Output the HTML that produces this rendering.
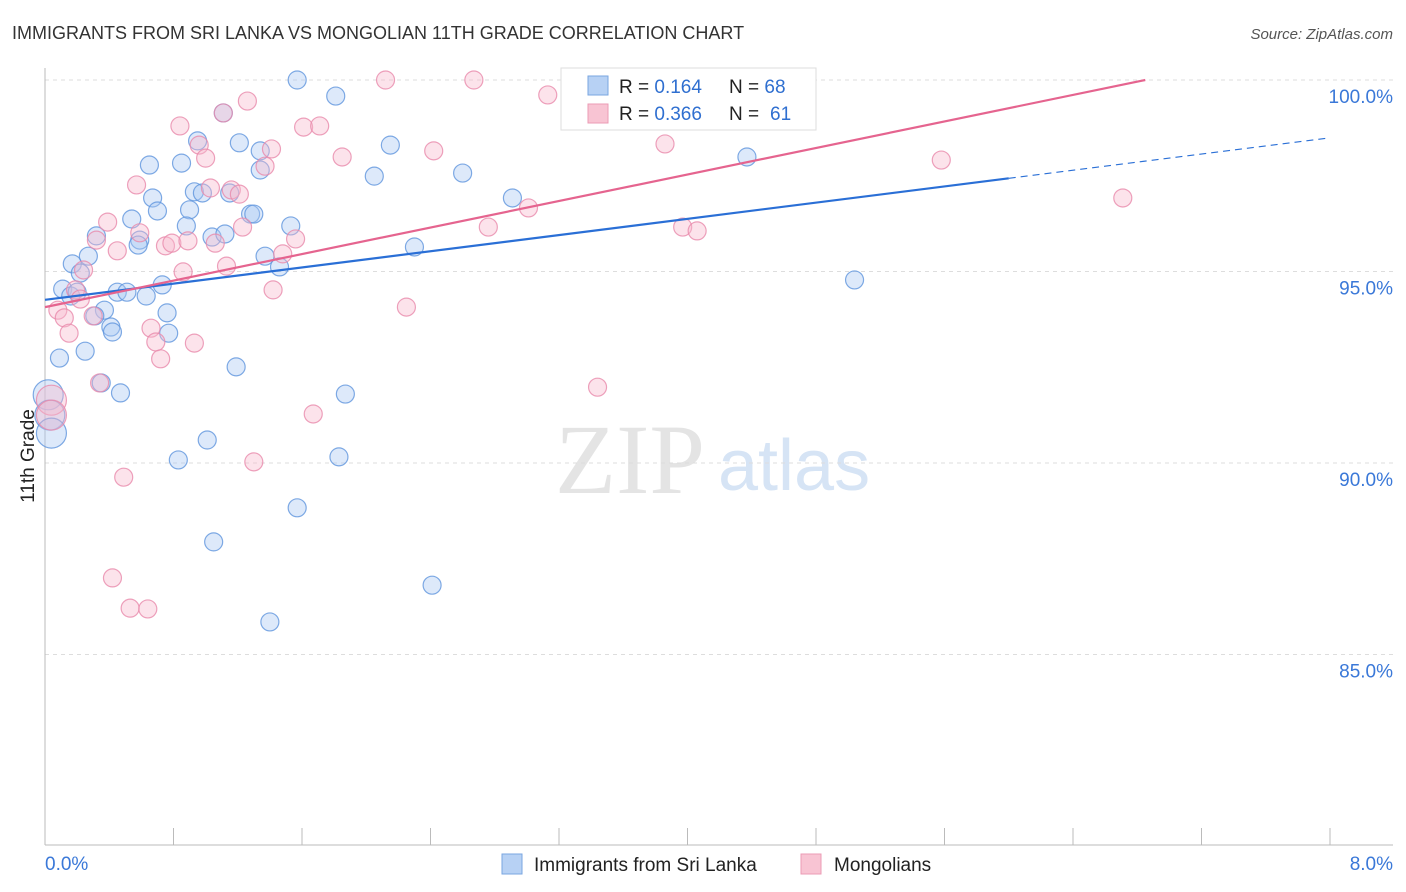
<!DOCTYPE html>
<html><head><meta charset="utf-8"><style>
body{margin:0;background:#fff;font-family:"Liberation Sans",sans-serif}
svg{display:block}
</style></head><body>
<svg width="1406" height="892" viewBox="0 0 1406 892" id="chart">
<text x="12" y="39" font-size="18" fill="#333">IMMIGRANTS FROM SRI LANKA VS MONGOLIAN 11TH GRADE CORRELATION CHART</text>
<text x="1393" y="39" font-size="15" fill="#555" font-style="italic" text-anchor="end">Source: ZipAtlas.com</text>
<text x="555" y="493" font-size="100" font-family="Liberation Serif,serif" fill="#e4e4e4">ZIP</text>
<text x="718" y="490" font-size="72" fill="#d6e4f5">atlas</text>
<text transform="translate(34,456) rotate(-90)" font-size="19" fill="#222" text-anchor="middle">11th Grade</text>
<g id="grid"></g><g id="axes"></g><g id="pts"></g><g id="lines"></g>
<g>
<rect x="561" y="68" width="255" height="62" fill="#fff" stroke="#ddd"/>
<rect x="588" y="76" width="20" height="19" fill="#b7d1f4" stroke="#7aa6e0"/>
<rect x="588" y="104" width="20" height="19" fill="#f8c4d3" stroke="#eb9bb5"/>
<text x="619" y="93" font-size="19" fill="#222">R = <tspan fill="#2f6fd0">0.164</tspan><tspan x="729">N = </tspan><tspan fill="#2f6fd0">68</tspan></text>
<text x="619" y="120" font-size="19" fill="#222">R = <tspan fill="#2f6fd0">0.366</tspan><tspan x="729">N = </tspan><tspan fill="#2f6fd0" x="770">61</tspan></text>
</g>
<g>
<rect x="502" y="854" width="20" height="20" fill="#b7d1f4" stroke="#7aa6e0"/>
<text x="534" y="871" font-size="19" fill="#222">Immigrants from Sri Lanka</text>
<rect x="801" y="854" width="20" height="20" fill="#f8c4d3" stroke="#eb9bb5"/>
<text x="834" y="871" font-size="19" fill="#222">Mongolians</text>
</g>
</svg>
<script>
const yTicks=[100,95,90,85];
const xTickLabels=["0.0%","8.0%"];
const blueX=[1.57,1.81,1.21,2.15,1.34,0.65,0.85,2.05,2.60,0.67,0.93,0.98,1.15,1.34,2.91,4.37,0.54,0.70,0.90,1.28,1.30,0.88,1.53,0.32,0.59,0.58,1.04,1.12,2.30,0.27,0.17,0.22,1.37,1.46,5.04,0.11,0.16,0.20,0.45,0.51,0.63,0.73,0.37,0.31,0.41,0.42,0.76,0.77,0.09,0.25,1.19,0.35,0.47,1.87,0.02,0.03,0.04,1.01,0.83,1.83,1.57,1.05,2.41,1.40,1.11,0.95];
const blueY=[100,99.58,98.36,98.30,98.15,97.78,97.83,97.49,97.57,96.92,97.08,97.05,97.05,97.65,96.92,97.99,96.37,96.58,96.61,96.50,96.50,96.19,96.19,95.93,95.82,95.69,95.90,95.98,95.64,95.40,95.20,94.96,95.40,95.12,94.78,94.54,94.36,94.46,94.46,94.46,94.36,94.65,93.99,93.84,93.55,93.42,93.92,93.39,92.74,92.92,92.51,92.09,91.83,91.80,91.78,91.25,90.78,90.60,90.08,90.16,88.83,87.94,86.81,85.85,99.14,98.41];
const pinkX=[1.11,2.12,2.67,3.13,1.26,0.84,1.61,1.71,0.96,1.00,1.41,1.37,1.85,2.42,3.86,5.58,6.71,0.57,1.03,1.16,1.21,0.39,0.59,1.23,1.56,3.01,2.76,3.97,4.06,0.32,0.45,0.75,0.79,0.89,1.06,1.48,0.24,0.86,1.13,1.42,0.19,0.22,0.08,0.12,0.30,2.25,0.15,0.66,0.69,0.72,0.93,0.34,3.44,0.04,0.04,1.67,1.30,0.49,0.42,0.53,0.64];
const pinkY=[99.14,100,100,99.61,99.45,98.80,98.77,98.80,98.30,97.96,98.20,97.75,97.99,98.15,98.33,97.91,96.92,97.26,97.18,97.13,97.02,96.29,96.01,96.16,95.85,96.66,96.16,96.16,96.06,95.82,95.54,95.67,95.74,95.80,95.74,95.46,95.04,94.99,95.14,94.52,94.52,94.28,93.99,93.79,93.84,94.07,93.39,93.52,93.16,92.72,93.13,92.09,91.98,91.64,91.25,91.28,90.03,89.63,87.00,86.21,86.19];
const blueTrend=[94.26,98.49];
const pinkTrend=[94.07,100.0];
const blueSolidEnd=6.0, pinkEnd=6.85;
const X0=45,X1=1330,YTOP=80;
const xs=v=>X0+(v/8)*(X1-X0);
const ys=v=>YTOP+(100-v)*38.3;
const NS="http://www.w3.org/2000/svg";
function mk(t,a,p){const e=document.createElementNS(NS,t);for(const k in a)e.setAttribute(k,a[k]);p.appendChild(e);return e;}
const grid=document.getElementById('grid'),axes=document.getElementById('axes');
yTicks.forEach(t=>{
  const l=mk('line',{x1:X0,x2:1393,y1:ys(t),y2:ys(t),stroke:'#ddd','stroke-dasharray':'4,4'},grid);
  
  
  const tx=mk('text',{x:1393,y:ys(t)+23,'font-size':19,fill:'#3a78d8','text-anchor':'end'},grid);
  tx.textContent=t.toFixed(1)+'%';
  
  
});
const ax=mk('line',{x1:X0,x2:1393,y1:845,y2:845,stroke:'#bbb'},axes);


const ay=mk('line',{x1:X0,x2:X0,y1:68,y2:845,stroke:'#bbb'},axes);


for(let k=0;k<=10;k++){
  const x=X0+k*(X1-X0)/10;
  const tk=mk('line',{x1:x,x2:x,y1:828,y2:845,stroke:'#bbb'},axes);
  
  
}
const xl0=mk('text',{x:45,y:870,'font-size':19,fill:'#3a78d8'},axes);xl0.textContent=xTickLabels[0];


const xl1=mk('text',{x:1393,y:870,'font-size':19,fill:'#3a78d8','text-anchor':'end'},axes);xl1.textContent=xTickLabels[1];


const pts=document.getElementById('pts');
function draw(X,Y,fill,stroke,name){
  X.forEach((x,i)=>{
    const r=x<0.06?15:9;
    const c=mk('circle',{cx:xs(x),cy:ys(Y[i]),r:r,fill:fill,'fill-opacity':0.4,stroke:stroke,'stroke-opacity':0.8,'stroke-width':1.2},pts);
    
    
  });
}
draw(blueX,blueY,'#a9c8f2','#5f95dd','point-sri-lanka');
draw(pinkX,pinkY,'#f7b9cc','#e98aab','point-mongolians');
const lines=document.getElementById('lines');
const bf=v=>blueTrend[0]+(blueTrend[1]-blueTrend[0])*v/8;
const pf=v=>pinkTrend[0]+(pinkTrend[1]-pinkTrend[0])*v/pinkEnd;
const b1=mk('line',{x1:xs(0),y1:ys(bf(0)),x2:xs(blueSolidEnd),y2:ys(bf(blueSolidEnd)),stroke:'#2a6fd6','stroke-width':2.2},lines);


const b2=mk('line',{x1:xs(blueSolidEnd),y1:ys(bf(blueSolidEnd)),x2:xs(8),y2:ys(bf(8)),stroke:'#2a6fd6','stroke-width':1.2,'stroke-dasharray':'7,5'},lines);


const p1=mk('line',{x1:xs(0),y1:ys(pf(0)),x2:xs(pinkEnd),y2:ys(pf(pinkEnd)),stroke:'#e5648f','stroke-width':2.2},lines);


</script>
</body></html>
